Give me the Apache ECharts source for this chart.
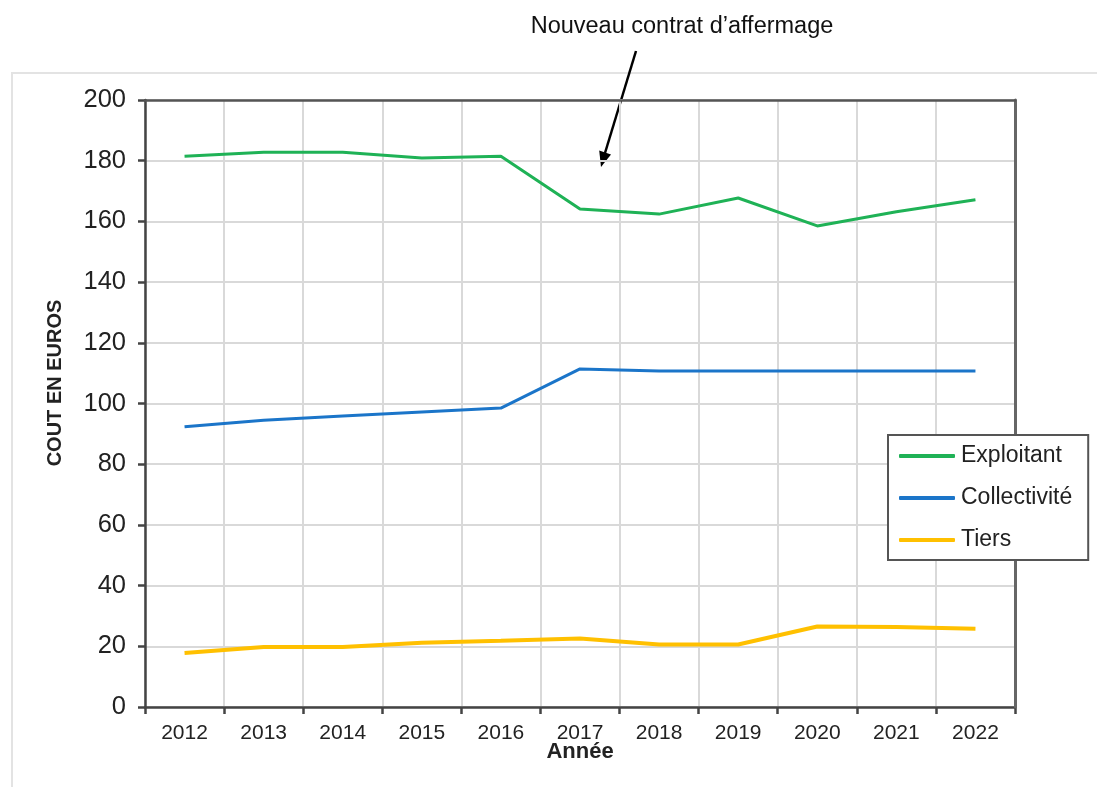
<!DOCTYPE html>
<html><head><meta charset="utf-8">
<script src="https://cdn.jsdelivr.net/npm/echarts@6/dist/echarts.min.js"></script>
<style>html,body{margin:0;padding:0;background:#fff}#c{width:1097px;height:787px}</style>
</head><body><div id="c"></div>
<script>
const years = ['2012','2013','2014','2015','2016','2017','2018','2019','2020','2021','2022'];
const exploitant = [181.5, 182.8, 182.8, 180.9, 181.5, 164.1, 162.4, 167.7, 158.5, 163.2, 167.1];
const collectivite = [92.3, 94.5, 95.9, 97.2, 98.5, 111.4, 110.7, 110.7, 110.7, 110.7, 110.7];
const tiers = [17.8, 19.8, 19.8, 21.2, 21.8, 22.6, 20.6, 20.6, 26.5, 26.4, 25.8];
const yTicks = {min: 0, max: 200, interval: 20};
const F = '"Liberation Sans", Arial, sans-serif';
const chart = echarts.init(document.getElementById('c'));
chart.setOption({
  animation: false,
  textStyle: {fontFamily: F},
  grid: {left: 145, right: 82, top: 100, bottom: 80},
  legend: {
    orient: 'vertical', left: 888, top: 435, width: 201, z: 30,
    padding: [8, 16, 7, 11], itemGap: 16, itemWidth: 56, itemHeight: 4,
    backgroundColor: '#fff', borderColor: '#555', borderWidth: 2, borderRadius: 0,
    icon: 'roundRect',
    textStyle: {fontSize: 23, color: '#222', fontFamily: F, padding: [0, 0, 0, 1], lineHeight: 26},
    data: ['Exploitant', 'Collectivité', 'Tiers']
  },
  xAxis: [{
    type: 'category', data: years, boundaryGap: true,
    axisLine: {lineStyle: {color: '#444', width: 2.5}},
    axisTick: {show: true, length: 7, lineStyle: {color: '#444', width: 2.5}},
    axisLabel: {fontSize: 21, color: '#222', margin: 16, fontFamily: F},
    splitLine: {show: true, lineStyle: {color: '#d9d9d9', width: 2}}
  }, {
    type: 'category', data: years, position: 'top', z: 10,
    axisLine: {show: true, onZero: false, lineStyle: {color: '#555', width: 2.5}}, axisTick: {show: false}, axisLabel: {show: false}, splitLine: {show: false}
  }],
  yAxis: [{
    type: 'value', min: yTicks.min, max: yTicks.max, interval: yTicks.interval,
    axisLine: {show: true, lineStyle: {color: '#444', width: 2.5}},
    axisTick: {show: true, length: 7, lineStyle: {color: '#444', width: 2.5}},
    axisLabel: {fontSize: 25.5, color: '#222', margin: 19, fontFamily: F},
    splitLine: {show: true, lineStyle: {color: '#d9d9d9', width: 2}}
  }, {
    type: 'value', min: yTicks.min, max: yTicks.max, interval: yTicks.interval, position: 'right', z: 10,
    axisLine: {show: true, onZero: false, lineStyle: {color: '#666', width: 3}}, axisTick: {show: false}, axisLabel: {show: false}, splitLine: {show: false}
  }],
  series: [
    {name: 'Exploitant', type: 'line', data: exploitant, symbol: 'none', lineStyle: {color: '#1fb256', width: 3}, itemStyle: {color: '#1fb256'}},
    {name: 'Collectivité', type: 'line', data: collectivite, symbol: 'none', lineStyle: {color: '#1b75c9', width: 3}, itemStyle: {color: '#1b75c9'}},
    {name: 'Tiers', type: 'line', data: tiers, symbol: 'none', lineStyle: {color: '#ffc000', width: 4}, itemStyle: {color: '#ffc000'}}
  ],
  graphic: [
    {type: 'rect', shape: {x: 12, y: 73, width: 1200, height: 900}, style: {fill: 'none', stroke: '#e3e3e3', lineWidth: 2}, z: -10, silent: true},
    {type: 'text', x: 55, y: 383, rotation: Math.PI / 2, style: {text: 'COUT EN EUROS', font: 'bold 20px ' + F, fill: '#222', align: 'center', verticalAlign: 'middle'}},
    {type: 'text', x: 580, y: 752, style: {text: 'Année', font: 'bold 22px ' + F, fill: '#222', align: 'center', verticalAlign: 'middle'}},
    {type: 'text', x: 682, y: 27, style: {text: 'Nouveau contrat d\u2019affermage', font: '23.5px ' + F, fill: '#111', align: 'center', verticalAlign: 'middle'}},
    {type: 'line', shape: {x1: 636, y1: 51, x2: 605, y2: 153}, style: {stroke: '#000', lineWidth: 2.5}},
    {type: 'polygon', shape: {points: [[601, 167], [611, 154.4], [599.2, 150.6]]}, style: {fill: '#000'}}
  ]
});
</script></body></html>
